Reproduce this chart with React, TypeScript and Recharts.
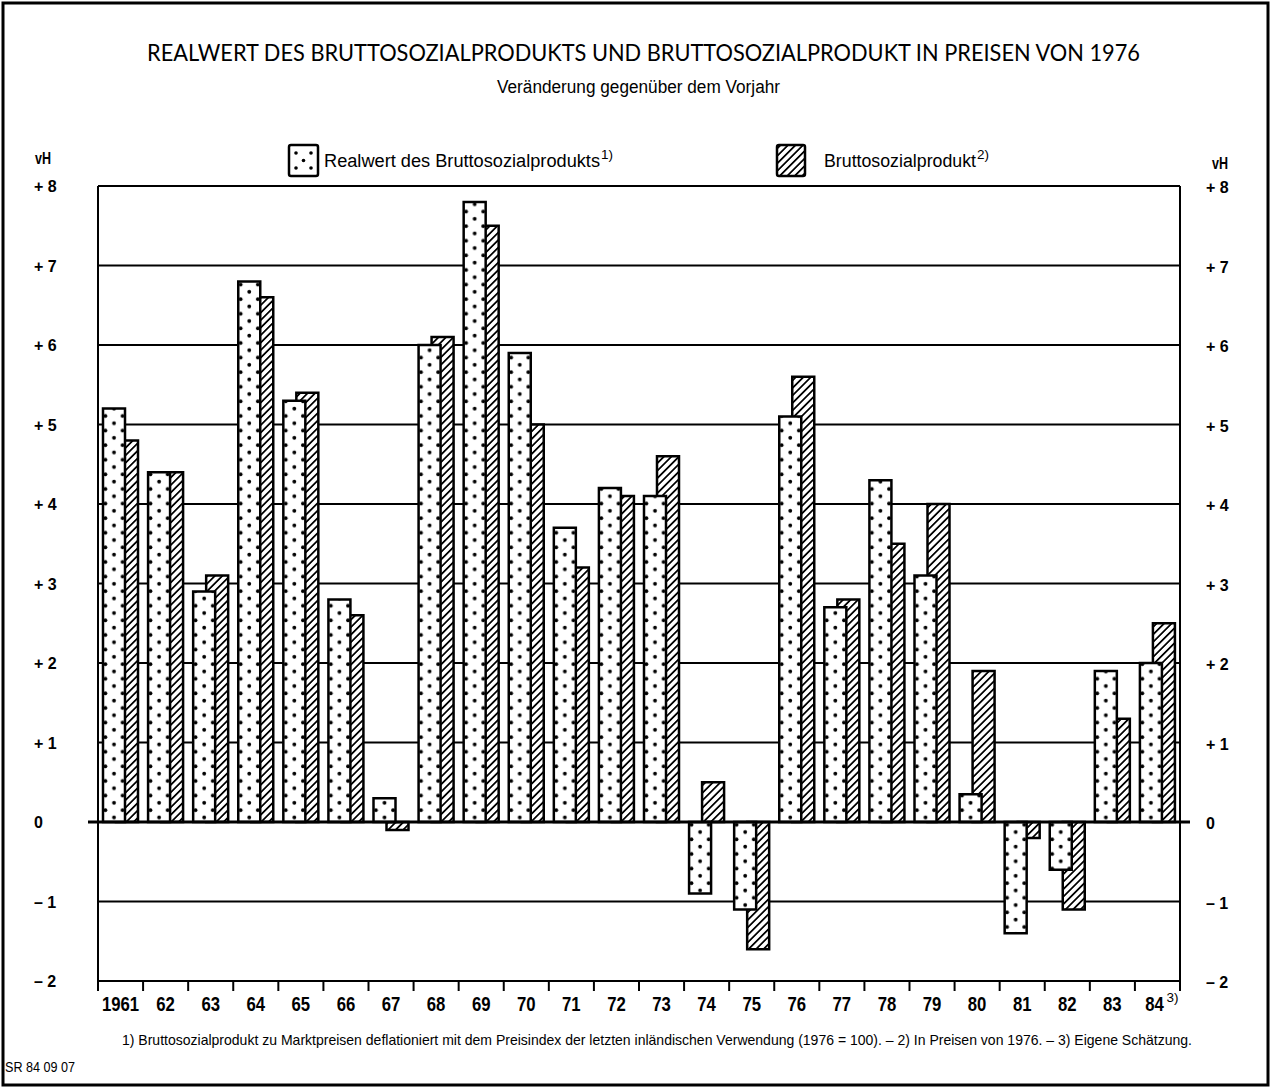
import { BarChart, Bar, XAxis, YAxis, CartesianGrid, ReferenceLine } from "recharts";

// Veränderung gegenüber dem Vorjahr in vH
const years = [
  "1961", "62", "63", "64", "65", "66", "67", "68", "69", "70", "71", "72",
  "73", "74", "75", "76", "77", "78", "79", "80", "81", "82", "83", "84",
];
const realwert = [
  5.2, 4.4, 2.9, 6.8, 5.3, 2.8, 0.3, 6.0, 7.8, 5.9, 3.7, 4.2,
  4.1, -0.9, -1.1, 5.1, 2.7, 4.3, 3.1, 0.35, -1.4, -0.6, 1.9, 2.0,
];
const bruttosozialprodukt = [
  4.8, 4.4, 3.1, 6.6, 5.4, 2.6, -0.1, 6.1, 7.5, 5.0, 3.2, 4.1,
  4.6, 0.5, -1.6, 5.6, 2.8, 3.5, 4.0, 1.9, -0.2, -1.1, 1.3, 2.5,
];
const yTicks = [-2, -1, 0, 1, 2, 3, 4, 5, 6, 7, 8];

const data = years.map((year, i) => ({
  year,
  realwert: realwert[i],
  bsp: bruttosozialprodukt[i],
}));

const W = 1271;
const H = 1088;
const PLOT_LEFT = 98;
const PLOT_RIGHT = 1180;
const PLOT_TOP = 186;
const PLOT_BOTTOM = 981;
const BAND = (PLOT_RIGHT - PLOT_LEFT) / years.length;
const BAR_SIZE = 22;
const BAR_GAP = -9;

const SANS = "'Liberation Sans', Arial, sans-serif";
const NARROW = "'Liberation Sans Narrow', 'Liberation Sans', Arial, sans-serif";
const TITLE = "Lato, 'Open Sans', sans-serif";

const fmt = (v: number) => (v > 0 ? `+ ${v}` : v < 0 ? `\u2013 ${Math.abs(v)}` : "0");

// the left axis ticks also write the mirrored labels on the right side
function ValueTick({ y, payload }: any) {
  const label = fmt(payload.value);
  const weight = payload.value === 0 ? 900 : "bold";
  return (
    <g>
      <text x={34} y={y} dy={6} fontFamily={SANS} fontWeight={weight} fontSize={16} fill="#000">
        {label}
      </text>
      <text x={1206} y={y} dy={7} fontFamily={SANS} fontWeight={weight} fontSize={16} fill="#000">
        {label}
      </text>
    </g>
  );
}

function YearTick({ x, payload, index }: any) {
  const left = x - BAND / 2;
  const last = index === years.length - 1;
  const label = String(payload.value);
  return (
    <g>
      <line x1={left} x2={left} y1={PLOT_BOTTOM} y2={PLOT_BOTTOM + 10} stroke="#000" strokeWidth={2} />
      {last && (
        <line x1={left + BAND} x2={left + BAND} y1={PLOT_BOTTOM} y2={PLOT_BOTTOM + 10} stroke="#000" strokeWidth={2} />
      )}
      <text
        x={last ? x - 3 : x}
        y={PLOT_BOTTOM + 30}
        textAnchor="middle"
        fontFamily={NARROW}
        fontWeight="bold"
        fontSize={21}
        fill="#000"
        textLength={label.length * 9.3}
        lengthAdjust="spacingAndGlyphs"
      >
        {label}
      </text>
      {last && (
        <text x={x + 9} y={PLOT_BOTTOM + 21} fontFamily={NARROW} fontSize={13} fill="#000" textLength={12} lengthAdjust="spacingAndGlyphs">
          3)
        </text>
      )}
    </g>
  );
}

export default function App() {
  // first dotted bar edge; one pattern tile spans a bar, so dots repeat bar by bar
  const dotX = PLOT_LEFT + Math.floor((BAND - (2 * BAR_SIZE + BAR_GAP)) / 2);
  const dotW = BAND / 2;

  return (
    <div style={{ position: "absolute", left: 0, top: 0, width: W, height: H, background: "#fff" }}>
      <svg width={0} height={0} style={{ position: "absolute" }}>
        <defs>
          <pattern id="dots" patternUnits="userSpaceOnUse" x={dotX} y={PLOT_TOP} width={dotW} height={14.6}>
            <rect width={dotW} height={14.6} fill="#fff" />
            <circle cx={BAR_SIZE / 2} cy={3.65} r={1.9} fill="#000" />
            <circle cx={2.4} cy={10.95} r={1.9} fill="#000" />
            <circle cx={BAR_SIZE - 2.4} cy={10.95} r={1.9} fill="#000" />
          </pattern>
          <pattern id="hatch" patternUnits="userSpaceOnUse" width={5.3} height={10} patternTransform="rotate(45)">
            <rect width={5.3} height={10} fill="#fff" />
            <line x1={2.65} y1={0} x2={2.65} y2={10} stroke="#000" strokeWidth={1.8} />
          </pattern>
          <pattern id="dice" patternUnits="objectBoundingBox" width={1} height={1}>
            <rect width={29} height={31} fill="#fff" />
            <circle cx={7} cy={8} r={1.8} fill="#000" />
            <circle cx={22} cy={8} r={1.8} fill="#000" />
            <circle cx={14.5} cy={15.5} r={1.8} fill="#000" />
            <circle cx={7} cy={23} r={1.8} fill="#000" />
            <circle cx={22} cy={23} r={1.8} fill="#000" />
          </pattern>
        </defs>
      </svg>

      {/* back layer: grid, axes and the hatched series */}
      <div style={{ position: "absolute", left: 0, top: 0 }}>
        <BarChart
          width={W}
          height={H}
          data={data}
          barSize={BAR_SIZE}
          barGap={BAR_GAP}
          margin={{ top: PLOT_TOP, left: 38, right: 31, bottom: 77 }}
        >
          <CartesianGrid vertical={false} stroke="#000" strokeWidth={2} strokeOpacity={1} />
          <XAxis
            dataKey="year"
            height={30}
            interval={0}
            axisLine={false}
            tickLine={false}
            tick={<YearTick />}
          />
          <YAxis
            width={60}
            domain={[-2, 8]}
            ticks={yTicks}
            interval={0}
            axisLine={{ stroke: "#000", strokeWidth: 2 }}
            tickLine={false}
            tick={<ValueTick />}
          />
          <YAxis
            yAxisId="r"
            orientation="right"
            width={60}
            domain={[-2, 8]}
            ticks={yTicks}
            axisLine={{ stroke: "#000", strokeWidth: 2 }}
            tickLine={false}
            tick={false}
          />
          <Bar dataKey="realwert" fill="transparent" stroke="none" isAnimationActive={false} />
          <Bar dataKey="bsp" fill="url(#hatch)" stroke="#000" strokeWidth={2.5} isAnimationActive={false} />
        </BarChart>
      </div>

      {/* front layer: dotted series overlaps the hatched bars */}
      <div style={{ position: "absolute", left: 0, top: 0 }}>
        <BarChart
          width={W}
          height={H}
          data={data}
          barSize={BAR_SIZE}
          barGap={BAR_GAP}
          margin={{ top: PLOT_TOP, left: PLOT_LEFT, right: W - PLOT_RIGHT, bottom: H - PLOT_BOTTOM }}
        >
          <XAxis dataKey="year" hide />
          <YAxis hide domain={[-2, 8]} ticks={yTicks} />
          <Bar dataKey="realwert" fill="url(#dots)" stroke="#000" strokeWidth={2.5} isAnimationActive={false} />
          <Bar dataKey="bsp" fill="transparent" stroke="none" isAnimationActive={false} />
          <ReferenceLine
            y={0}
            shape={(p: any) => (
              <line x1={p.x1 - 10} x2={p.x2 + 10} y1={p.y1} y2={p.y2} stroke="#000" strokeWidth={3} />
            )}
          />
        </BarChart>
      </div>

      <svg width={W} height={H} style={{ position: "absolute", left: 0, top: 0, pointerEvents: "none" }}>
        <rect x={3} y={3} width={W - 6} height={H - 6} fill="none" stroke="#000" strokeWidth={3} />

        <text x={643.5} y={61} textAnchor="middle" fontFamily={TITLE} fontSize={24} fill="#000" textLength={993} lengthAdjust="spacingAndGlyphs">
          REALWERT DES BRUTTOSOZIALPRODUKTS UND BRUTTOSOZIALPRODUKT IN PREISEN VON 1976
        </text>
        <text x={638.5} y={93} textAnchor="middle" fontFamily={NARROW} fontSize={18} fill="#000" textLength={283} lengthAdjust="spacingAndGlyphs">
          Veränderung gegenüber dem Vorjahr
        </text>

        {/* legend */}
        <rect x={289} y={145} width={29} height={31} rx={2} fill="url(#dice)" stroke="#000" strokeWidth={2.5} />
        <text x={324} y={167} fontFamily={NARROW} fontSize={18} fill="#000" textLength={276} lengthAdjust="spacingAndGlyphs">
          Realwert des Bruttosozialprodukts
        </text>
        <text x={601} y={159} fontFamily={NARROW} fontSize={13} fill="#000" textLength={12} lengthAdjust="spacingAndGlyphs">1)</text>
        <rect x={777} y={145} width={28} height={31} rx={2} fill="url(#hatch)" stroke="#000" strokeWidth={2.5} />
        <text x={824} y={167} fontFamily={NARROW} fontSize={18} fill="#000" textLength={152} lengthAdjust="spacingAndGlyphs">
          Bruttosozialprodukt
        </text>
        <text x={977} y={159} fontFamily={NARROW} fontSize={13} fill="#000" textLength={12} lengthAdjust="spacingAndGlyphs">2)</text>

        <text x={35} y={164} fontFamily={NARROW} fontWeight="bold" fontSize={17} fill="#000" textLength={16} lengthAdjust="spacingAndGlyphs">vH</text>
        <text x={1212} y={169} fontFamily={NARROW} fontWeight="bold" fontSize={17} fill="#000" textLength={16} lengthAdjust="spacingAndGlyphs">vH</text>

        <text x={122} y={1045} fontFamily={NARROW} fontSize={15} fill="#000" textLength={1070} lengthAdjust="spacingAndGlyphs">
          1) Bruttosozialprodukt zu Marktpreisen deflationiert mit dem Preisindex der letzten inländischen Verwendung (1976 = 100). – 2) In Preisen von 1976. – 3) Eigene Schätzung.
        </text>
        <text x={5} y={1072} fontFamily={NARROW} fontSize={14} fill="#000" textLength={70} lengthAdjust="spacingAndGlyphs">
          SR 84 09 07
        </text>
      </svg>
    </div>
  );
}
